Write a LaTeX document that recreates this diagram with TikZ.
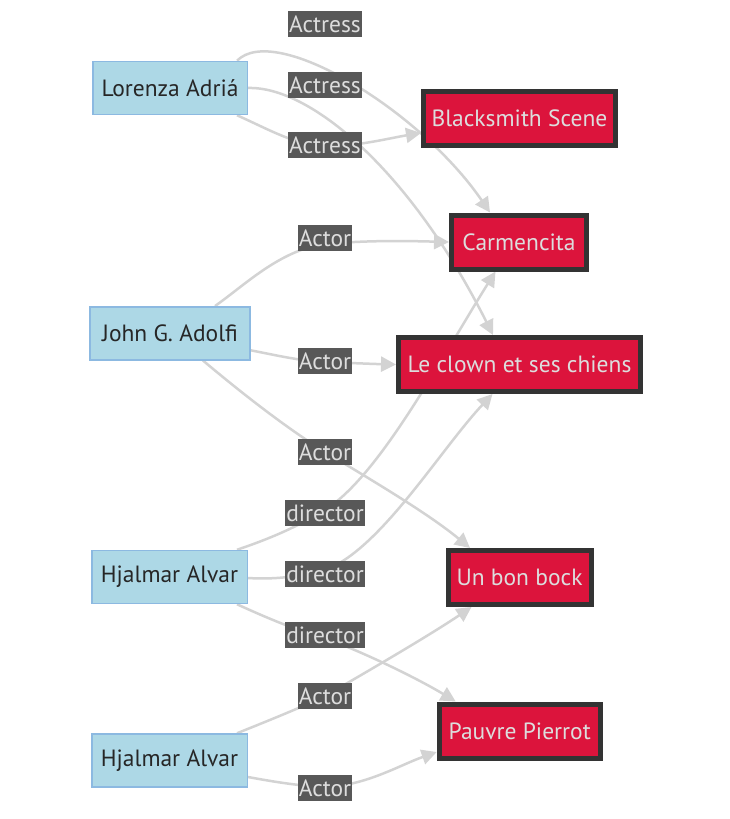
\documentclass[tikz,border=0pt]{standalone}
\usepackage{fontspec}
\setmainfont{PT Sans}
\usetikzlibrary{arrows.meta, backgrounds}
\definecolor{castblue}{RGB}{173,216,230}
\definecolor{castline}{RGB}{140,185,225}
\definecolor{filmred}{RGB}{220,20,60}
\definecolor{filmline}{RGB}{51,51,51}
\definecolor{edgegray}{RGB}{211,211,211}
\definecolor{tagfill}{RGB}{88,88,88}
\definecolor{tagtext}{RGB}{221,221,221}

\begin{document}
\begin{tikzpicture}[x=1pt, y=-1pt,
		person/.style={draw=castline, fill=castblue, line width=1.5pt, inner sep=0pt,
			minimum height=53pt, text=black!85, font=\fontsize{23.5}{27}\selectfont},
		film/.style={draw=filmline, fill=filmred, line width=5pt, inner sep=0pt,
			minimum height=54pt, text=tagtext, font=\fontsize{23.5}{27}\selectfont},
		tag/.style={fill=tagfill, text=tagtext, inner xsep=1pt, inner ysep=0pt,
			minimum height=26pt, font=\fontsize{23.5}{27}\selectfont},
		arrow/.style={-{Triangle[length=15pt, width=15pt]}, line width=2.5pt, draw=edgegray}
	]
		\useasboundingbox (0,0) rectangle (730,819);
		\node[person, minimum width=154.5pt] (lorenza) at (170,88) {Lorenza Adriá};
		\node[person, minimum width=160pt] (john) at (170,333.3) {John G. Adolfi};
		\node[person, minimum width=155.5pt] (hjalmarA) at (169.5,577) {Hjalmar Alvar};
		\node[person, minimum width=155.5pt] (hjalmarB) at (169.5,760.5) {Hjalmar Alvar};
		\node[film, minimum width=192pt] (smith) at (519.5,118.5) {Blacksmith Scene};
		\node[film, minimum width=135pt] (carm) at (519,242) {Carmencita};
		\node[film, minimum width=242pt] (clown) at (519.5,364.5) {Le clown et ses chiens};
		\node[film, minimum width=143pt] (bock) at (519.5,577.5) {Un bon bock};
		\node[film, minimum width=161pt] (pierrot) at (519.7,731) {Pauvre Pierrot};
		\foreach \n/\y/\t in {tA/24/Actress, tB/85/Actress, tC/145/Actress, tD/238/Actor,
				tE/361/Actor, tF/452/Actor, tG/513/director, tH/574/director,
				tI/635/director, tJ/696/Actor, tK/788/Actor}
			\node[tag] (\n) at (325,\y) {\t};
		\begin{pgfonlayer}{background}
			\draw[arrow] ([xshift=-11pt]lorenza.north east) .. controls (275,22) and (420,110) .. ([xshift=-29pt]carm.north);
			\draw[arrow] (lorenza.east) .. controls (310,86) and (410,170) .. ([xshift=-26.5pt]clown.north);
			\draw[arrow] ([xshift=-11pt]lorenza.south east) .. controls (270,130) and (295,145) .. (325,146)
				.. controls (355,147) and (390,138) .. ([yshift=-14.5pt]smith.west);
			\draw[arrow] ([xshift=45pt]john.north) .. controls (245,285) and (280,250) .. (325,244)
				.. controls (370,240) and (410,241) .. (carm.west);
			\draw[arrow] ([yshift=-17pt]john.east) .. controls (275,355) and (300,361) .. (325,362)
				.. controls (350,363) and (375,364) .. (clown.west);
			\draw[arrow] ([xshift=33pt]john.south) .. controls (250,400) and (290,430) .. (325,452)
				.. controls (380,485) and (430,515) .. ([xshift=-49.5pt]bock.north);
			\draw[arrow] ([xshift=-11pt]hjalmarA.north east) .. controls (275,537) and (300,525) .. (325,510)
				.. controls (380,475) and (440,360) .. ([xshift=-23.5pt]carm.south);
			\draw[arrow] ([yshift=-1pt]hjalmarA.east) .. controls (280,580) and (305,575) .. (325,570)
				.. controls (380,550) and (440,450) .. ([xshift=-27pt]clown.south);
			\draw[arrow] ([xshift=-11pt]hjalmarA.south east) .. controls (265,617) and (295,630) .. (325,638)
				.. controls (370,655) and (420,680) .. ([xshift=-64pt]pierrot.north);
			\draw[arrow] ([xshift=-11pt]hjalmarB.north east) .. controls (265,722) and (300,708) .. (325,696)
				.. controls (370,670) and (430,635) .. ([xshift=-48pt]bock.south);
			\draw[arrow] ([yshift=-16.5pt]hjalmarB.east) .. controls (275,782) and (300,786) .. (325,787)
				.. controls (365,786) and (400,765) .. ([yshift=-21pt]pierrot.west);
		\end{pgfonlayer}
	\end{tikzpicture}
\end{document}
